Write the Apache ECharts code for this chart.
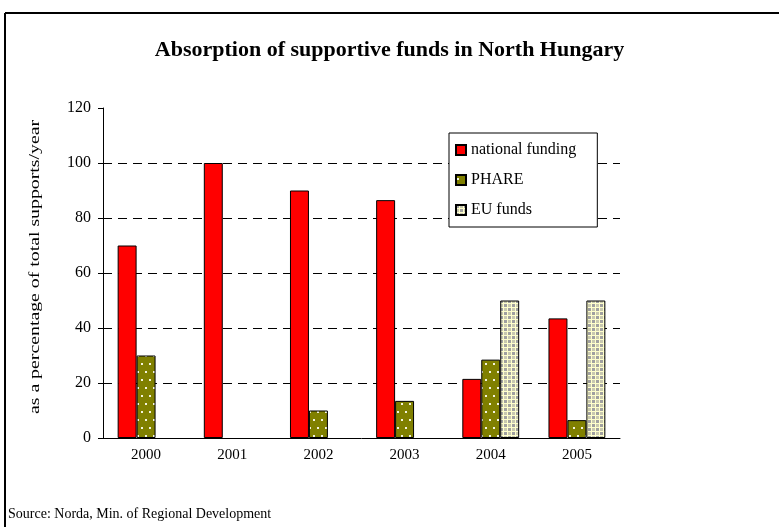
<!DOCTYPE html>
<html>
<head>
<meta charset="utf-8">
<script src="https://cdn.jsdelivr.net/npm/echarts@6/dist/echarts.min.js"></script>
<style>
  html, body { margin: 0; padding: 0; background: #fff; }
  #chart { width: 779px; height: 527px; }
</style>
</head>
<body>
<div id="chart"></div>
<script>
const years = ['2000', '2001', '2002', '2003', '2004', '2005']
const nationalFunding = [70, 100, 90, 86.5, 21.5, 43.5]
const phare = [30, 0, 10, 13.5, 28.5, 6.5]
const euFunds = [0, 0, 0, 0, 50, 50]
const yTicks = [0, 20, 40, 60, 80, 100, 120]

const serif = '"Liberation Serif", "DejaVu Serif", serif'

// zero bars are not drawn in the original
const noZero = arr => arr.map(v => (v === 0 ? '-' : v))

// dotted olive fill for PHARE
function dotPattern () {
  const c = document.createElement('canvas')
  c.width = 8
  c.height = 16
  const ctx = c.getContext('2d')
  ctx.fillStyle = '#808000'
  ctx.fillRect(0, 0, 8, 16)
  ctx.fillStyle = '#f4f4e0'
  ctx.fillRect(1, 3, 2, 2)
  ctx.fillRect(5, 11, 2, 2)
  return c
}

// checkered fill for EU funds
function checkPattern () {
  const c = document.createElement('canvas')
  c.width = 8
  c.height = 8
  const ctx = c.getContext('2d')
  ctx.fillStyle = '#ffffcc'
  ctx.fillRect(0, 0, 8, 8)
  ctx.fillStyle = '#a0a0a0'
  ctx.fillRect(0, 0, 3, 3)
  ctx.fillRect(4, 4, 3, 3)
  ctx.fillStyle = '#c8c8b0'
  ctx.fillRect(4, 0, 3, 3)
  ctx.fillRect(0, 4, 3, 3)
  return c
}

const chart = echarts.init(document.getElementById('chart'))

const barStyle = { borderColor: '#000', borderWidth: 1 }

chart.setOption({
  animation: false,
  backgroundColor: '#fff',
  title: {
    text: 'Absorption of supportive funds in North Hungary',
    left: 'center',
    top: 34,
    textStyle: { fontFamily: serif, fontSize: 22, fontWeight: 'bold', color: '#000' }
  },
  graphic: [
    { type: 'line', shape: { x1: 5, y1: 13, x2: 779, y2: 13 }, style: { stroke: '#000', lineWidth: 2 } },
    { type: 'line', shape: { x1: 5, y1: 13, x2: 5, y2: 527 }, style: { stroke: '#000', lineWidth: 2 } },
    {
      // y axis title, stretched along its length like the original
      type: 'text',
      x: 35,
      y: 267,
      rotation: Math.PI / 2,
      scaleX: 1.32,
      style: {
        text: 'as a percentage of total supports/year',
        font: '15px ' + serif,
        fill: '#000',
        align: 'center',
        verticalAlign: 'middle'
      }
    },
    {
      type: 'text',
      left: 8,
      top: 507,
      style: { text: 'Source: Norda, Min. of Regional Development', font: '14px ' + serif, fill: '#000' }
    }
  ],
  legend: {
    orient: 'vertical',
    left: 449,
    top: 133,
    padding: [9, 21, 9, 6],
    itemGap: 14,
    itemWidth: 10,
    itemHeight: 10,
    backgroundColor: '#fff',
    borderColor: '#000',
    borderWidth: 1,
    textStyle: { fontFamily: serif, fontSize: 16, color: '#000' },
    data: [
      { name: 'national funding', icon: 'rect' },
      { name: 'PHARE', icon: 'rect' },
      { name: 'EU funds', icon: 'rect' }
    ]
  },
  grid: { left: 103, top: 108, right: 159, bottom: 89 },
  xAxis: {
    type: 'category',
    data: years,
    axisLine: { lineStyle: { color: '#000', width: 1 } },
    axisTick: { length: 5, lineStyle: { color: '#000' } },
    axisLabel: { fontFamily: serif, fontSize: 15, color: '#000', margin: 10 }
  },
  yAxis: {
    type: 'value',
    min: 0,
    max: 120,
    interval: 20,
    axisLine: { show: true, lineStyle: { color: '#000', width: 1 } },
    axisTick: { show: true, length: 5, lineStyle: { color: '#000' } },
    axisLabel: { fontFamily: serif, fontSize: 16, color: '#000', margin: 12 },
    splitLine: {
      show: true,
      lineStyle: {
        color: yTicks.map(v => (v === 120 || v === 0) ? 'rgba(0,0,0,0)' : '#000'),
        type: [9, 6],
        width: 1
      }
    }
  },
  series: [
    {
      name: 'national funding',
      type: 'bar',
      data: noZero(nationalFunding),
      barGap: '0%',
      barCategoryGap: '34%',
      itemStyle: Object.assign({ color: '#ff0000' }, barStyle)
    },
    {
      name: 'PHARE',
      type: 'bar',
      data: noZero(phare),
      barGap: '0%',
      barCategoryGap: '34%',
      itemStyle: Object.assign({ color: { image: dotPattern(), repeat: 'repeat' } }, barStyle)
    },
    {
      name: 'EU funds',
      type: 'bar',
      data: noZero(euFunds),
      barGap: '0%',
      barCategoryGap: '34%',
      itemStyle: Object.assign({ color: { image: checkPattern(), repeat: 'repeat' } }, barStyle)
    }
  ]
})
</script>
</body>
</html>
